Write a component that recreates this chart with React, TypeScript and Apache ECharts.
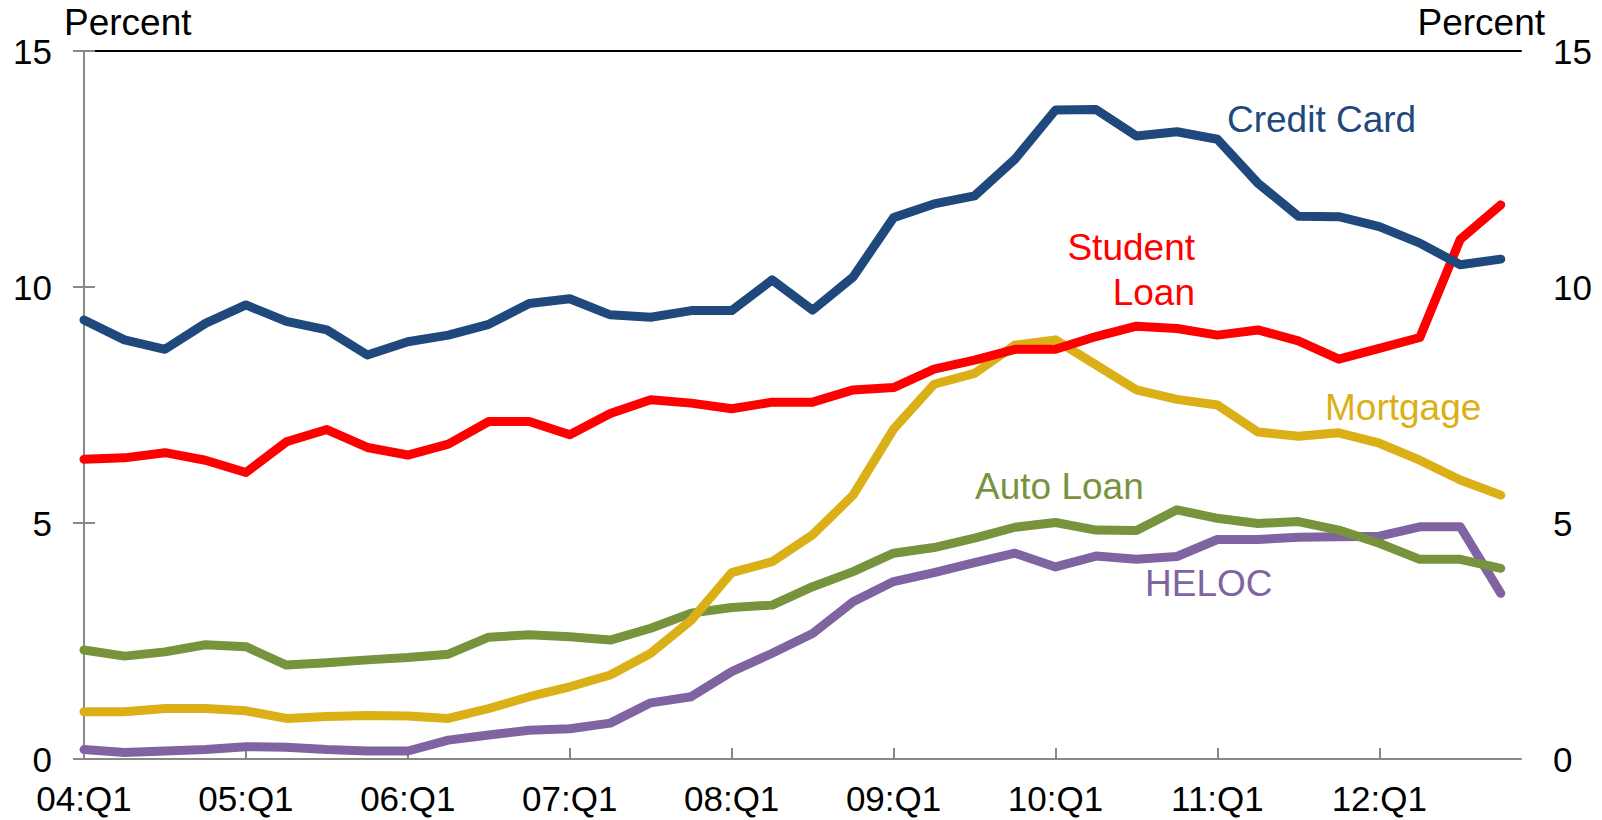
import React, { useEffect, useRef } from "react";
import * as echarts from "echarts";

const quarters: string[] = [
  "04:Q1","04:Q2","04:Q3","04:Q4","05:Q1","05:Q2","05:Q3","05:Q4",
  "06:Q1","06:Q2","06:Q3","06:Q4","07:Q1","07:Q2","07:Q3","07:Q4",
  "08:Q1","08:Q2","08:Q3","08:Q4","09:Q1","09:Q2","09:Q3","09:Q4",
  "10:Q1","10:Q2","10:Q3","10:Q4","11:Q1","11:Q2","11:Q3","11:Q4",
  "12:Q1","12:Q2","12:Q3","12:Q4",
];

const creditCard: number[] = [
  9.30, 8.88, 8.68, 9.23, 9.62, 9.27, 9.09, 8.56, 8.84, 8.98, 9.21, 9.65,
  9.75, 9.41, 9.36, 9.50, 9.50, 10.15, 9.51, 10.21, 11.47, 11.76, 11.93, 12.71,
  13.75, 13.76, 13.20, 13.29, 13.13, 12.20, 11.50, 11.49, 11.28, 10.93, 10.47, 10.59,
];
const studentLoan: number[] = [
  6.35, 6.38, 6.49, 6.33, 6.07, 6.72, 6.98, 6.60, 6.44, 6.67, 7.15, 7.15,
  6.87, 7.32, 7.61, 7.54, 7.42, 7.56, 7.56, 7.82, 7.87, 8.26, 8.45, 8.68,
  8.68, 8.95, 9.17, 9.12, 8.98, 9.09, 8.86, 8.47, 8.70, 8.93, 11.01, 11.74,
];
const mortgage: number[] = [
  1.00, 1.00, 1.07, 1.07, 1.02, 0.86, 0.90, 0.92, 0.91, 0.86, 1.07, 1.32,
  1.53, 1.78, 2.24, 2.94, 3.95, 4.18, 4.75, 5.59, 6.99, 7.94, 8.17, 8.77,
  8.88, 8.35, 7.82, 7.62, 7.50, 6.93, 6.84, 6.91, 6.69, 6.33, 5.91, 5.59,
];
const autoLoan: number[] = [
  2.31, 2.18, 2.27, 2.42, 2.38, 1.99, 2.04, 2.10, 2.15, 2.22, 2.58, 2.63,
  2.59, 2.52, 2.77, 3.09, 3.21, 3.26, 3.65, 3.97, 4.36, 4.48, 4.68, 4.91,
  5.01, 4.85, 4.84, 5.28, 5.10, 4.99, 5.03, 4.85, 4.57, 4.23, 4.23, 4.04,
];
const heloc: number[] = [
  0.20, 0.14, 0.17, 0.20, 0.26, 0.25, 0.20, 0.17, 0.17, 0.40, 0.51, 0.61,
  0.64, 0.76, 1.19, 1.32, 1.85, 2.24, 2.66, 3.33, 3.76, 3.95, 4.16, 4.36,
  4.07, 4.30, 4.23, 4.29, 4.65, 4.65, 4.70, 4.71, 4.72, 4.92, 4.92, 3.51,
];

const seriesNames = ["Credit Card", "Student Loan", "Mortgage", "Auto Loan", "HELOC"];
const seriesColors = ["#1F497D", "#FF0000", "#DAB016", "#77933C", "#8064A2"];
const yTicks = [0, 5, 10, 15];

const FONT = "'Liberation Sans', Arial, sans-serif";

export default function App() {
  const ref = useRef<HTMLDivElement>(null);

  useEffect(() => {
    if (!ref.current) return;
    const chart = echarts.init(ref.current, undefined, { renderer: "svg" });
    const allData = [creditCard, studentLoan, mortgage, autoLoan, heloc];

    const yAxisCommon = {
      type: "value" as const,
      min: yTicks[0],
      max: yTicks[yTicks.length - 1],
      interval: 5,
      splitLine: { show: false },
      axisLine: { show: true, lineStyle: { color: "#898989", width: 2 } },
      axisTick: { show: true, inside: true, length: 11, lineStyle: { color: "#898989", width: 2 } },
      axisLabel: { color: "#000", fontSize: 35, fontFamily: FONT, margin: 32 },
    };

    const annot = (text: string, x: number, y: number, color: string, align = "left") => ({
      type: "text",
      x,
      y,
      style: { text, fill: color, font: `37px ${FONT}`, textAlign: align, textVerticalAlign: "middle" },
    });

    chart.setOption({
      animation: false,
      backgroundColor: "#fff",
      grid: { left: 84, right: 81, top: 51, bottom: 61, containLabel: false },
      xAxis: [
        {
          type: "value",
          min: 0,
          max: 35.5,
          interval: 4,
          splitLine: { show: false },
          axisLine: { show: true, onZero: false, lineStyle: { color: "#898989", width: 2 } },
          axisTick: { show: true, inside: true, length: 11, lineStyle: { color: "#898989", width: 2 } },
          axisLabel: {
            color: "#000",
            fontSize: 35,
            fontFamily: FONT,
            margin: 22,
            showMaxLabel: false,
            formatter: (v: number) => (Number.isInteger(v) && v % 4 === 0 && quarters[v] ? quarters[v] : ""),
          },
        },
        {
          type: "value",
          position: "top",
          min: 0,
          max: 35.5,
          axisLine: { show: true, onZero: false, lineStyle: { color: "#000", width: 2 } },
          axisTick: { show: false },
          axisLabel: { show: false },
          splitLine: { show: false },
        },
      ],
      yAxis: [
        { ...yAxisCommon, position: "left" },
        { ...yAxisCommon, position: "right" },
      ],
      series: allData.map((d, k) => ({
        name: seriesNames[k],
        type: "line",
        xAxisIndex: 0,
        yAxisIndex: 0,
        data: d.map((v, i) => [i, v]),
        showSymbol: false,
        symbol: "none",
        lineStyle: { color: seriesColors[k], width: 9, cap: "round", join: "round" },
        z: 10 - k,
      })),
      graphic: [
        annot("Percent", 64, 22, "#000"),
        annot("Percent", 1545, 22, "#000", "right"),
        annot("Credit Card", 1227, 119, seriesColors[0]),
        annot("Student", 1195, 247, seriesColors[1], "right"),
        annot("Loan", 1195, 292, seriesColors[1], "right"),
        annot("Mortgage", 1325, 407, seriesColors[2]),
        annot("Auto Loan", 975, 486, seriesColors[3]),
        annot("HELOC", 1145, 583, seriesColors[4]),
      ],
    });

    return () => chart.dispose();
  }, []);

  return (
    <div
      ref={ref}
      style={{ position: "fixed", left: 0, top: 0, width: 1602, height: 820, background: "#fff" }}
    />
  );
}
